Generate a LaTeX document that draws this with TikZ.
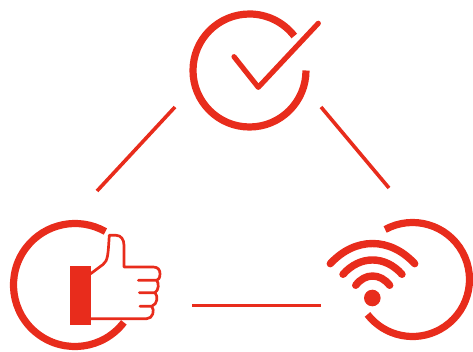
\documentclass[tikz,border=0pt]{standalone}
\definecolor{signred}{RGB}{232,44,28}
\tikzset{
  ring/.style={draw=signred,line width=7.2pt},
  link/.style={draw=signred,line width=3.6pt},
  tick/.style={draw=signred,line width=5.2pt,line cap=round,line join=round},
  wave/.style={draw=signred,line width=7.4pt,line cap=round},
  hand/.style={draw=signred,line width=2.7pt,line join=round,line cap=round}
}
\begin{document}
\begin{tikzpicture}[x=1pt,y=-1pt]
\useasboundingbox (0,0) rectangle (473,352);
\coordinate (topA) at (175,107);
\coordinate (leftA) at (97,191);
\coordinate (topB) at (321,107);
\coordinate (rightB) at (389,188);
\coordinate (leftC) at (192,305.5);
\coordinate (rightC) at (321,305.5);
\draw[link] (topA)--(leftA);
\draw[link] (topB)--(rightB);
\draw[link] (leftC)--(rightC);
\draw[ring] (249.5,70.5) ++(0:56.5) arc (0:322.4:56.5);
\draw[tick] (234,56.7)--(258.3,87.3)--(318.3,23.3);
\draw[ring] (75,285) ++(37.4:61.5) arc (37.4:299.6:61.5);
\fill[signred] (70,266) rectangle (90.7,325.3);
\draw[hand] (90.7,273.7)--(103,264.5) .. controls (108,260.5) and (108,255) .. (109.3,235.3)--(116,235.3)
  .. controls (121,235.3) and (124,239.5) .. (124,245.3)--(124,267)--(153.3,267)
  .. controls (158,267) and (160,270) .. (160,273.7) .. controls (160,277.5) and (158.5,280.3) .. (156.7,280.3)--(138.3,280.3);
\draw[hand] (156.7,280.3) .. controls (159,283) and (159,290) .. (155,292.7)--(139.3,292.7);
\draw[hand] (155,292.7) .. controls (158,296) and (158,304) .. (151.7,306.3)--(140,306.3);
\draw[hand] (151.7,306.3) .. controls (155,310) and (153,318.7) .. (146.7,318.7)--(90.7,318.7);
\draw[ring] (412.5,279.5) ++(241.3:57) arc (241.3:502.2:57);
\draw[wave] (330.3,263.7) .. controls (355,236.8) and (390,236.8) .. (414.7,263.7);
\draw[wave] (343,274.3) .. controls (360,255.2) and (385,255.2) .. (402,274.3);
\draw[wave] (355.7,285.3) .. controls (365,272.9) and (380,272.9) .. (389.7,285.3);
\fill[signred] (372.3,298) circle (8.3);
\end{tikzpicture}
\end{document}
